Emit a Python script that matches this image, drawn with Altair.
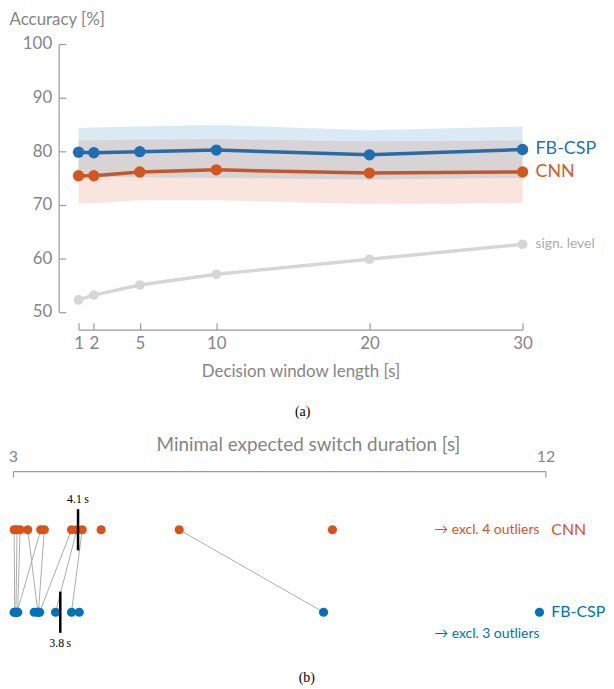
import altair as alt
import pandas as pd

# ---------------- (a) accuracy vs decision window ----------------
windows = [1, 2, 5, 10, 20, 30]
fbcsp_acc = [79.8, 79.7, 79.9, 80.2, 79.3, 80.3]
fbcsp_lo = [75.3, 75.2, 75.1, 75.0, 74.7, 75.0]
fbcsp_hi = [84.3, 84.4, 84.6, 84.9, 83.9, 84.6]
cnn_acc = [75.4, 75.4, 76.1, 76.5, 75.9, 76.1]
cnn_lo = [70.3, 70.2, 70.8, 70.8, 70.1, 70.3]
cnn_hi = [82.0, 82.0, 82.1, 82.2, 81.8, 82.0]
sign_level = [52.2, 53.1, 55.0, 57.0, 59.8, 62.6]
acc_ticks = [50, 60, 70, 80, 90, 100]

# ---------------- (b) minimal expected switch duration ----------------
cnn_msd = [3.02, 3.07, 3.12, 3.25, 3.47, 3.53, 3.99, 4.08, 4.17, 5.81, 4.49, 8.40, None, None, None, None]
fbcsp_msd = [3.03, 3.05, 3.08, 3.42, 3.07, 3.43, 3.45, 3.72, 3.99, 8.25, None, None, 4.12, 3.36, 3.02, None]
msd_ticks = [3, 12]
models = ["CNN", "FB-CSP"]
medians = [4.1, 3.8]
n_outliers = [4, 3]

# ---------------- styling ----------------
W = 536
H1 = 287.5
H2 = 180
SANS = "Lato"
SERIF = "Liberation Serif"
GRAY = "#858585"
AXC = "#9a9a9a"
BLUE = "#0072BD"
ORANGE = "#D95319"
BLUE_LINE = "#2a6aa6"
ORANGE_LINE = "#c4582c"
BLUE_DOT = "#1f6db3"
ORANGE_DOT = "#d4561f"
SIGN = "#d6d6d6"

# ---------------- chart (a) ----------------
xs_a = alt.Scale(domain=[1, 30], range=[66, 513], nice=False, zero=False)
ys_a = alt.Scale(domain=[50, 100], range=[269.5, 0], nice=False, zero=False)
ax_xa = alt.Axis(orient="top", offset=-H1, values=windows, tickSize=7, labelPadding=-21,
                 labelBaseline="middle", labelAlign="center", labelFlush=False, labelOverlap=False,
                 title="Decision window length [s]", titleY=42, titleBaseline="middle", grid=False)
ax_ya = alt.Axis(orient="right", offset=46 - W, values=acc_ticks, tickSize=7, labelPadding=-14,
                 labelAlign="right", labelBaseline="middle", labelFlush=False, labelOverlap=False,
                 title="Accuracy [%]", titleAngle=0, titleAlign="left", titleBaseline="top",
                 titleX=-50, titleY=-32.5, grid=False)


def xa(f):
    return alt.X(f, type="quantitative", scale=xs_a, axis=ax_xa)


def ya(f):
    return alt.Y(f, type="quantitative", scale=ys_a, axis=ax_ya)


df_fb = pd.DataFrame({"window": windows, "acc": fbcsp_acc, "lo": fbcsp_lo, "hi": fbcsp_hi})
df_cnn = pd.DataFrame({"window": windows, "acc": cnn_acc, "lo": cnn_lo, "hi": cnn_hi})
df_sig = pd.DataFrame({"window": windows, "acc": sign_level})

band_fb = alt.Chart(df_fb).mark_area(color=BLUE, opacity=0.15).encode(x=xa("window"), y=ya("lo"), y2="hi")
band_cnn = alt.Chart(df_cnn).mark_area(color=ORANGE, opacity=0.15).encode(x=xa("window"), y=ya("lo"), y2="hi")

line_sig = alt.Chart(df_sig).mark_line(color=SIGN, strokeWidth=3.5).encode(x=xa("window"), y=ya("acc"))
pts_sig = alt.Chart(df_sig).mark_circle(color=SIGN, size=95, opacity=1).encode(x=xa("window"), y=ya("acc"))
line_cnn = alt.Chart(df_cnn).mark_line(color=ORANGE_LINE, strokeWidth=3.5).encode(x=xa("window"), y=ya("acc"))
pts_cnn = alt.Chart(df_cnn).mark_circle(color=ORANGE_DOT, size=130, opacity=1).encode(x=xa("window"), y=ya("acc"))
line_fb = alt.Chart(df_fb).mark_line(color=BLUE_LINE, strokeWidth=3.5).encode(x=xa("window"), y=ya("acc"))
pts_fb = alt.Chart(df_fb).mark_circle(color=BLUE_DOT, size=130, opacity=1).encode(x=xa("window"), y=ya("acc"))

df_lab = pd.DataFrame({
    "window": [windows[-1]] * 3,
    "acc": [fbcsp_acc[-1], cnn_acc[-1], sign_level[-1]],
    "text": ["FB-CSP", "CNN", "sign. level"],
})
lab_fb = alt.Chart(df_lab.iloc[[0]]).mark_text(align="left", baseline="middle", dx=13, font=SANS,
                                                fontSize=18, color="#1f72b8").encode(
    x=xa("window"), y=ya("acc"), text="text:N")
lab_cnn = alt.Chart(df_lab.iloc[[1]]).mark_text(align="left", baseline="middle", dx=13, font=SANS,
                                                 fontSize=18, color="#d45a26").encode(
    x=xa("window"), y=ya("acc"), text="text:N")
lab_sig = alt.Chart(df_lab.iloc[[2]]).mark_text(align="left", baseline="middle", dx=13, font=SANS,
                                                 fontSize=14, color="#ababab").encode(
    x=xa("window"), y=ya("acc"), text="text:N")

top = alt.layer(band_fb, band_cnn, line_sig, pts_sig, line_cnn, pts_cnn, line_fb, pts_fb,
                lab_fb, lab_cnn, lab_sig).properties(
    width=W, height=H1,
    title=alt.TitleParams("(a)", orient="bottom", frame="bounds", anchor="middle", font=SERIF,
                          fontSize=14, fontWeight="normal", color="black", offset=26))

# ---------------- chart (b) ----------------
xs_b = alt.Scale(domain=[3, 12], nice=False, zero=False)
ys_b = alt.Scale(domain=[0, 1], range=[142, 59], nice=False, zero=False)
ax_xb = alt.Axis(orient="bottom", offset=-H2, values=msd_ticks, tickSize=6, labelPadding=-21,
                 labelBaseline="middle", labelFlush=False, labelOverlap=False, labelFontSize=16,
                 title="Minimal expected switch duration [s]", titleY=-27, titleX=297,
                 titleBaseline="middle", titleFontSize=19, grid=False)


def xb(f):
    return alt.X(f, type="quantitative", scale=xs_b, axis=ax_xb)


def yb(f):
    return alt.Y(f, type="quantitative", scale=ys_b, axis=None)


pairs = pd.DataFrame({"cnn": cnn_msd, "fb": fbcsp_msd}).dropna()
pairs["rc"] = 1
pairs["rf"] = 0

pts = pd.concat([
    pd.DataFrame({"model": "CNN", "msd": cnn_msd, "row": 1}),
    pd.DataFrame({"model": "FB-CSP", "msd": fbcsp_msd, "row": 0}),
]).dropna()

color_b = alt.Color("model:N", scale=alt.Scale(domain=models, range=[ORANGE, BLUE]), legend=None)

connect = alt.Chart(pairs).mark_rule(color="#ababab", strokeWidth=1).encode(
    x=xb("cnn"), x2="fb", y=yb("rc"), y2="rf")
dots = alt.Chart(pts).mark_circle(size=85, opacity=1).encode(x=xb("msd"), y=yb("row"), color=color_b)

df_med = pd.DataFrame({"model": models, "med": medians, "row": [1, 0]})
df_med["lo"] = df_med["row"] - 0.25
df_med["hi"] = df_med["row"] + 0.25
df_med["label"] = [f"{m}\u2009s" for m in medians]
med_rule = alt.Chart(df_med).mark_rule(color="black", strokeWidth=2.5).encode(
    x=xb("med"), y=yb("lo"), y2="hi")
med_lab_c = alt.Chart(df_med.iloc[[0]]).mark_text(font=SERIF, fontSize=12, dy=-31, color="black").encode(
    x=xb("med"), y=yb("row"), text="label:N")
med_lab_f = alt.Chart(df_med.iloc[[1]]).mark_text(font=SERIF, fontSize=12, dy=31, color="black").encode(
    x=xb("med"), y=yb("row"), text="label:N")

df_ann = pd.DataFrame({
    "model": models,
    "x": [msd_ticks[-1]] * 2,
    "row": [1, 0],
    "excl": [f"\u2192 excl.  {n} outliers" for n in n_outliers],
})
excl_c = alt.Chart(df_ann.iloc[[0]]).mark_text(align="right", baseline="middle", dx=-6, font=SANS,
                                               fontSize=14, color=ORANGE).encode(
    x=xb("x"), y=yb("row"), text="excl:N")
excl_f = alt.Chart(df_ann.iloc[[1]]).mark_text(align="right", baseline="middle", dx=-6, dy=22, font=SANS,
                                               fontSize=14, color=BLUE).encode(
    x=xb("x"), y=yb("row"), text="excl:N")
name_c = alt.Chart(df_ann.iloc[[0]]).mark_text(align="left", baseline="middle", dx=6, font=SANS,
                                               fontSize=16, color=ORANGE).encode(
    x=xb("x"), y=yb("row"), text="model:N")
name_f = alt.Chart(df_ann.iloc[[1]]).mark_text(align="left", baseline="middle", dx=6, font=SANS,
                                               fontSize=16, color=BLUE).encode(
    x=xb("x"), y=yb("row"), text="model:N")
legend_dot = alt.Chart(pd.DataFrame({"x": [11.9], "row": [0]})).mark_circle(
    size=85, opacity=1, color=BLUE).encode(x=xb("x"), y=yb("row"))

bottom = alt.layer(connect, dots, med_rule, med_lab_c, med_lab_f, excl_c, excl_f, name_c, name_f,
                   legend_dot).properties(
    width=W, height=H2,
    title=alt.TitleParams("(b)", orient="bottom", frame="bounds", anchor="middle", font=SERIF,
                          fontSize=14, fontWeight="normal", color="black", offset=21))

chart = alt.vconcat(top, bottom, spacing=16).properties(
    padding={"left": 0, "top": 0, "right": 0, "bottom": 0}, background="white"
).configure_axis(
    labelFont=SANS, titleFont=SANS, labelColor=GRAY, titleColor=GRAY, domainColor=AXC, tickColor=AXC,
    labelFontSize=17, titleFontSize=17, titleFontWeight="normal", domainWidth=1.2, tickWidth=1.2, grid=False
).configure_view(stroke=None)

chart.save("out.html", embed_options={"renderer": "svg", "actions": False})
